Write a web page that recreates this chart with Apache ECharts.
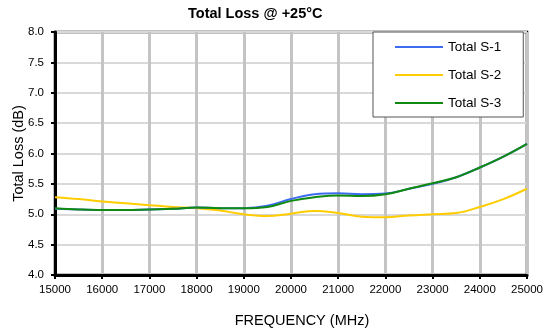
<!DOCTYPE html>
<html>
<head>
<meta charset="utf-8">
<script src="https://cdn.jsdelivr.net/npm/echarts@6/dist/echarts.min.js"></script>
<style>
  html, body { margin: 0; padding: 0; background: #fff; }
  #chart { width: 546px; height: 330px; }
</style>
</head>
<body>
<div id="chart"></div>
<script>
// frequency points (MHz)
var freqs = [15000, 15500, 16000, 16500, 17000, 17500, 18000, 18500, 19000, 19500, 20000,
             20500, 21000, 21500, 22000, 22500, 23000, 23500, 24000, 24500, 25000];
// loss in dB
var lossS1 = [5.09, 5.08, 5.07, 5.07, 5.08, 5.09, 5.11, 5.10, 5.10, 5.14, 5.25,
              5.33, 5.345, 5.33, 5.34, 5.42, 5.50, 5.61, 5.77, 5.95, 6.16];
var lossS2 = [5.28, 5.25, 5.21, 5.18, 5.15, 5.12, 5.10, 5.06, 5.00, 4.97, 5.01,
              5.055, 5.02, 4.96, 4.95, 4.98, 5.00, 5.02, 5.12, 5.25, 5.42];
var lossS3 = [5.10, 5.08, 5.07, 5.07, 5.08, 5.09, 5.11, 5.10, 5.10, 5.12, 5.22,
              5.28, 5.31, 5.30, 5.33, 5.42, 5.51, 5.61, 5.77, 5.95, 6.16];
var seriesNames = ['Total S-1', 'Total S-2', 'Total S-3'];
var seriesColors = ['#3d6cf0', '#ffcc00', '#108a10'];

function pairs(xs, ys) {
    return xs.map(function (x, i) { return [x, ys[i]]; });
}

var font = 'Liberation Sans, Arial, sans-serif';
var chart = echarts.init(document.getElementById('chart'), null, { renderer: 'canvas' });

var allLoss = [lossS1, lossS2, lossS3];
var series = seriesNames.map(function (name, i) {
    return {
        name: name,
        type: 'line',
        smooth: 0.4,
        symbol: 'none',
        data: pairs(freqs, allLoss[i]),
        lineStyle: { color: seriesColors[i], width: 2 },
        itemStyle: { color: seriesColors[i] },
        z: i === 1 ? 3 : (i === 0 ? 4 : 5)
    };
});

chart.setOption({
    animation: false,
    backgroundColor: '#fff',
    textStyle: { fontFamily: font },
    title: {
        text: 'Total Loss @ +25°C',
        left: 183,
        top: 1,
        textStyle: { fontFamily: font, fontSize: 14.5, fontWeight: 'bold', color: '#000' }
    },
    legend: {
        orient: 'vertical',
        left: 373,
        top: 32,
        data: seriesNames,
        icon: 'rect',
        itemWidth: 48,
        itemHeight: 2,
        itemGap: 12,
        padding: [7, 22, 6, 22],
        backgroundColor: '#fff',
        borderColor: '#555',
        borderWidth: 1,
        textStyle: { fontFamily: font, fontSize: 13.5, color: '#000', lineHeight: 16 }
    },
    grid: {
        left: 55,
        right: 19,
        top: 32,
        bottom: 55,
        show: true,
        borderColor: '#000',
        borderWidth: 2.5,
        containLabel: false,
        outerBoundsMode: 'none'
    },
    xAxis: {
        type: 'value',
        min: 15000,
        max: 25000,
        interval: 1000,
        name: 'FREQUENCY (MHz)',
        nameLocation: 'middle',
        nameGap: 38,
        nameMoveOverlap: false,
        nameTextStyle: { fontFamily: font, fontSize: 14.5, color: '#000', padding: [0, 0, 0, 22] },
        axisLine: { show: true, lineStyle: { color: '#000', width: 3 } },
        axisTick: { show: true, length: 4, lineStyle: { color: '#000', width: 2 } },
        axisLabel: {
            fontFamily: font, fontSize: 11.5, color: '#000', margin: 9,
            formatter: function (v) { return String(v); }
        },
        splitLine: { show: true, lineStyle: { color: '#c4c4c4', width: 3 } }
    },
    yAxis: {
        type: 'value',
        min: 4.0,
        max: 8.0,
        interval: 0.5,
        name: 'Total Loss (dB)',
        nameLocation: 'middle',
        nameGap: 29,
        nameMoveOverlap: false,
        nameTextStyle: { fontFamily: font, fontSize: 14.5, color: '#000' },
        axisLine: { show: true, lineStyle: { color: '#000', width: 3 } },
        axisTick: { show: true, length: 4, lineStyle: { color: '#000', width: 2 } },
        axisLabel: {
            fontFamily: font, fontSize: 11.5, color: '#000', margin: 11,
            formatter: function (v) { return v.toFixed(1); }
        },
        splitLine: { show: true, lineStyle: { color: '#d9d9d9', width: 2 } }
    },
    series: series
});
</script>
</body>
</html>
